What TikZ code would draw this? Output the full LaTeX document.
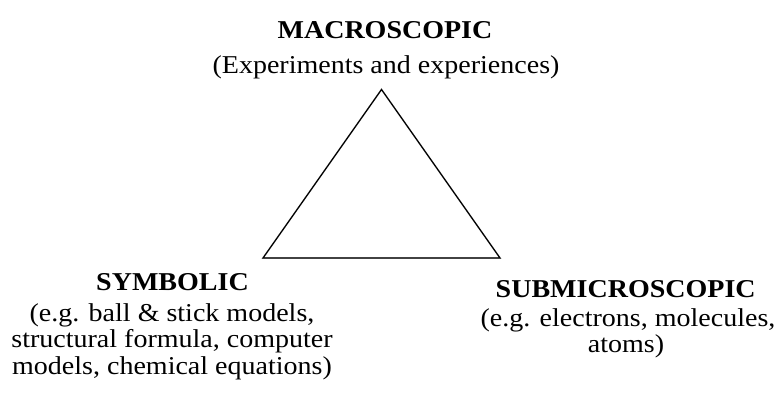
\documentclass[tikz,border=0pt]{standalone}
\usepackage{fontspec}
\setmainfont{Liberation Serif}[FakeStretch=1.09]
\begin{document}
\begin{tikzpicture}[x=1pt,y=-1pt,
  lbl/.style={inner sep=0pt,anchor=base,font=\fontsize{25.7}{26}\selectfont},
  ttl/.style={lbl,font=\fontsize{25.7}{26}\selectfont\bfseries},
  tri/.style={draw=black,line width=1.2pt,line join=miter},
  trishadow/.style={draw=black!25,line width=1.6pt}]
\useasboundingbox (0,0) rectangle (776,394);
\coordinate (top) at (381.5,89.5);
\coordinate (bl) at (263,258);
\coordinate (br) at (500,258);
\draw[trishadow,shift={(1,2)}] (top) -- (bl) -- (br) -- cycle;
\draw[tri] (top) -- (bl) -- (br) -- cycle;
\node[ttl] (mac) at (385,38.3) {MACROSCOPIC};
\node[lbl] (mac1) at (386,73.3) {(Experiments and experiences)};
\node[ttl] (sym) at (172.5,290.7) {SYMBOLIC};
\node[lbl] (sym1) at (172,321.7) {(e.g. ball \& stick models,};
\node[lbl] (sym2) at (172,347.9) {structural formula, computer};
\node[lbl] (sym3) at (172,374.1) {models, chemical equations)};
\node[ttl] (sub) at (625.7,297.5) {SUBMICROSCOPIC};
\node[lbl] (sub1) at (628,326.5) {(e.g. electrons, molecules,};
\node[lbl] (sub2) at (626,352.8) {atoms)};
\end{tikzpicture}
\end{document}
